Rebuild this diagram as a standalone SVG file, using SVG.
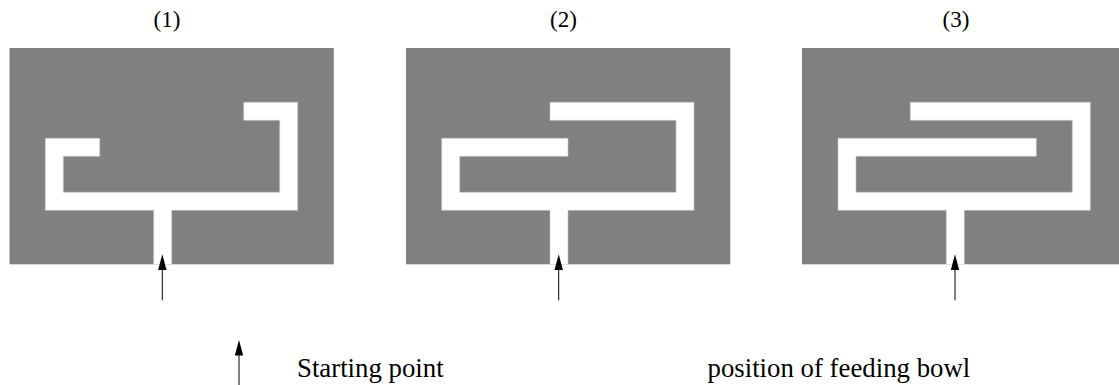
<svg xmlns="http://www.w3.org/2000/svg" width="1119" height="385" viewBox="0 0 1119 385">
<style>
.panel{fill:#808080}
.cut{fill:#fff;stroke:#c8c8c8;stroke-width:.6}
.shaft{stroke:#000;stroke-width:1;fill:none}
.head{fill:#000}
text{font-family:"Liberation Serif","Times New Roman",serif;fill:#000}
.num{font-size:23px}
.leg{font-size:26.8px}
</style>
<rect width="1119" height="385" fill="#fff"/>
<g id="panel1">
<rect class="panel" x="9.5" y="48" width="324.3" height="216.3"/>
<path class="cut" d="M153.7 264.3V210.3H45.3V138.3H99.7V156.3H63.3V192.3H279.7V120.3H243.7V102.3H297.7V210.3H171.7V264.3"/>
<text class="num" x="153.5" y="27">(1)</text>
</g>
<g id="panel2">
<rect class="panel" x="406" y="48" width="324.3" height="216.3"/>
<path class="cut" d="M550 264.3V210.3H441.7V138.3H568V156.3H459.7V192.3H676V120.3H550V102.3H694V210.3H568V264.3"/>
<text class="num" x="550" y="27">(2)</text>
</g>
<g id="panel3">
<rect class="panel" x="802" y="48" width="324" height="216.3"/>
<path class="cut" d="M946.3 264.3V210.3H838V138.3H1036.3V156.3H856V192.3H1072.3V120.3H910.3V102.3H1090.3V210.3H964.3V264.3"/>
<text class="num" x="942.5" y="27">(3)</text>
</g>
<g id="connectors">
<path class="shaft" d="M162.3 300.3V268"/><path class="shaft" d="M558.7 300.3V268"/><path class="shaft" d="M955 300.3V268"/><path class="shaft" d="M239 385V353"/>
<polygon class="head" points="162.3,254.3 166.5,270 158.1,270"/>
<polygon class="head" points="558.7,254.3 562.9,270 554.5,270"/>
<polygon class="head" points="955,254.3 959.2,270 950.8,270"/>
<polygon class="head" points="239,340 243.2,355.5 234.8,355.5"/>
</g>
<g id="legend">
<text class="leg" x="297" y="377">Starting point</text>
<text class="leg" x="707.5" y="377">position of feeding bowl</text>
</g>
</svg>
